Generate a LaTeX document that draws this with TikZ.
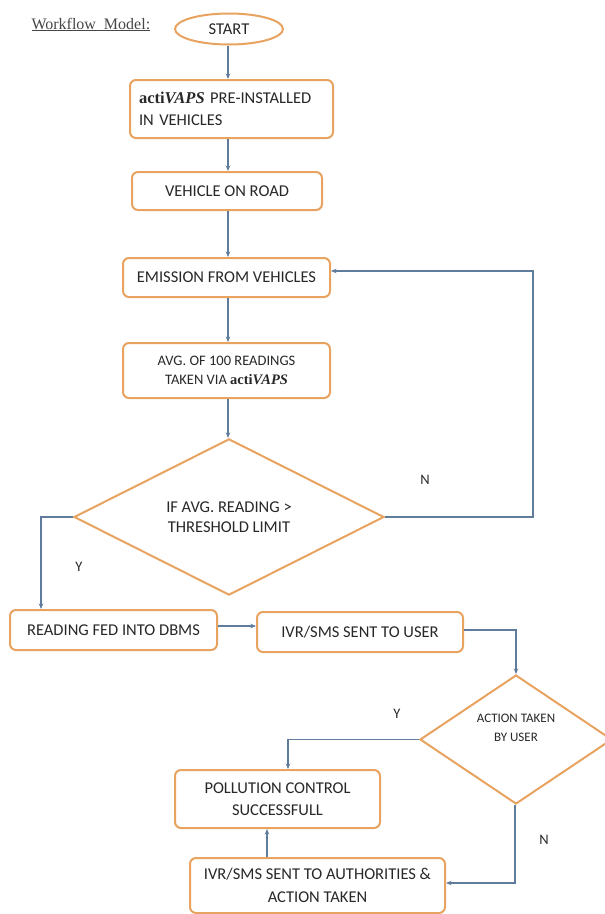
\documentclass[tikz,border=0pt]{standalone}
\usepackage{fontspec}
\setmainfont{Carlito}
\newfontfamily\timesf{Liberation Serif}
\usetikzlibrary{shapes.geometric,arrows.meta}

% product name: bold roman "acti" followed by bold italic "VAPS"
\newcommand\activaps{{\timesf\bfseries acti\textit{VAPS}}}

\definecolor{boxedge}{RGB}{232,163,96}
\definecolor{linkc}{RGB}{96,124,156}
\definecolor{inkc}{RGB}{40,40,40}

\begin{document}
\begin{tikzpicture}[x=1pt,y=-1pt,
  every node/.style={text=inkc},
  stepbox/.style={draw=boxedge, line width=2pt, fill=white, rounded corners=6pt,
    inner sep=0pt, font=\fontsize{16.5}{22.5}\selectfont, align=center},
  decision/.style={diamond, draw=boxedge, line width=2pt, fill=white, inner sep=0pt},
  terminal/.style={ellipse, draw=boxedge, line width=2pt, fill=white, inner sep=0pt,
    font=\fontsize{16.5}{20}\selectfont},
  link/.style={draw=linkc, line width=1.1pt, -{Stealth[length=5.5pt,width=4.5pt]}},
  flag/.style={font=\fontsize{14.5}{17}\selectfont}
]
\clip (0,0) rectangle (605,914);

% heading
\node[anchor=base west, font=\timesf\fontsize{16}{18}\selectfont, text={rgb,255:red,70;green,70;blue,70}]
  (title) at (28,29) {\underline{Workflow\ \ Model:}};

% main column
\coordinate (spine) at (228,0);
\node[terminal, minimum width=108, minimum height=31] (start) at (229,29) {START};
\node[stepbox, minimum width=203, minimum height=58, text width=185, align=left]
  (b1) at (231.5,109) {\activaps{} PRE-INSTALLED\\IN VEHICLES};
\node[stepbox, minimum width=190, minimum height=38] (b2) at (227,191) {VEHICLE ON ROAD};
\node[stepbox, minimum width=207, minimum height=39] (b3) at (226.5,277.5) {EMISSION FROM VEHICLES};
\node[stepbox, minimum width=207, minimum height=55, font=\fontsize{14.5}{19}\selectfont]
  (b4) at (226.5,370.5) {AVG. OF 100 READINGS\\TAKEN VIA \activaps};
\node[decision, minimum width=310, minimum height=108, align=center,
  font=\fontsize{16.5}{20}\selectfont] (dec1) at (229,517)
  {IF AVG. READING >\\THRESHOLD LIMIT};

% lower part
\node[stepbox, minimum width=207, minimum height=40] (b5) at (113.5,630) {READING FED INTO DBMS};
\node[stepbox, minimum width=206, minimum height=40] (b6) at (360,632) {IVR/SMS SENT TO USER};
\node[decision, minimum width=192, minimum height=129] (dec2) at (516,739.5) {};
\node[align=center, font=\fontsize{13}{19}\selectfont] (dec2txt) at (516,728)
  {ACTION TAKEN\\BY USER};
\node[stepbox, minimum width=205, minimum height=58] (b7) at (277.5,799)
  {POLLUTION CONTROL\\SUCCESSFULL};
\node[stepbox, minimum width=255, minimum height=55] (b8) at (317.5,885.5)
  {IVR/SMS SENT TO AUTHORITIES \&\\ACTION TAKEN};

% branch labels
\node[flag] (n1) at (425,480) {N};
\node[flag] (y1) at (79,567) {Y};
\node[flag] (y2) at (397,714) {Y};
\node[flag] (n2) at (544,840) {N};

% connectors along the main column
\draw[link] (start.south -| spine) -- (b1.north -| spine);
\draw[link] (b1.south -| spine) -- (b2.north -| spine);
\draw[link] (b2.south -| spine) -- (b3.north -| spine);
\draw[link] (b3.south -| spine) -- (b4.north -| spine);
\draw[link] (b4.south -| spine) -- (dec1.north -| spine);

% N: loop back to the emission step
\coordinate (nret) at (533,517);
\draw[link] (dec1.east) -- (nret) |- ([yshift=6.5pt]b3.east);

% Y: store the reading
\coordinate (yleft) at (41,517);
\draw[link] (dec1.west) -- (yleft) -- (yleft |- b5.north);

\draw[link] ([yshift=4pt]b5.east) -- ([yshift=4pt]b5.east -| b6.west);
\draw[link] ([yshift=2pt]b6.east) -| (dec2.north);

% user decision
\coordinate (yturn) at (288,739.5);
\draw[link] (dec2.west) -- (yturn) -- (yturn |- b7.north);
\coordinate (nturn) at (515,883);
\draw[link] (dec2.south -| nturn) -- (nturn) -- (nturn -| b8.east);
\coordinate (upx) at (267,858);
\draw[link] (b8.north -| upx) -- (b7.south -| upx);
\end{tikzpicture}
\end{document}
